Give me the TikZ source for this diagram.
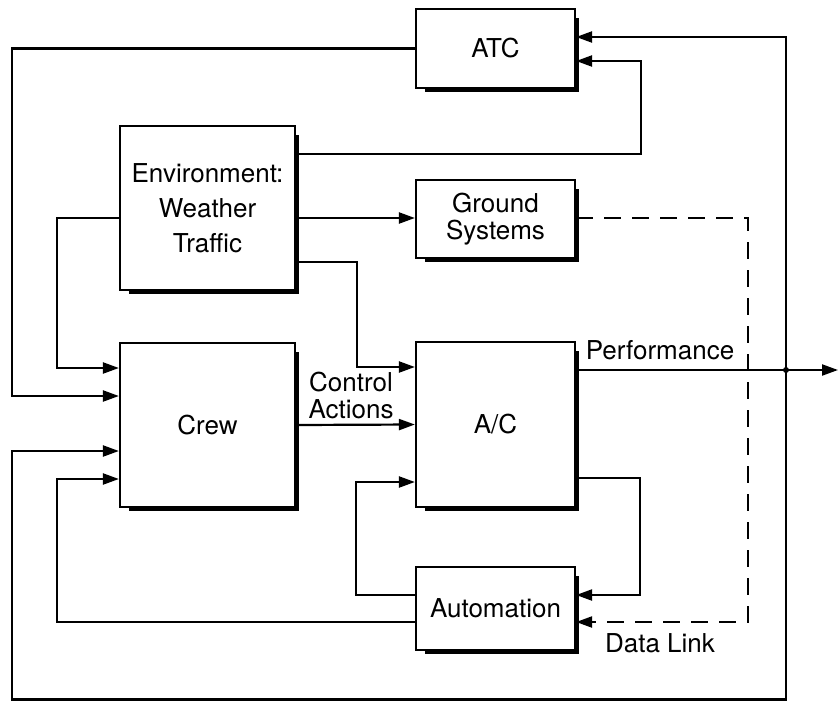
\documentclass[tikz,border=0pt]{standalone}
\usepackage{fontspec}
\setmainfont{TeX Gyre Heros}
\usetikzlibrary{arrows.meta}
\tikzset{
  blk/.style={draw, line width=2.2pt, inner sep=0pt, align=center, font=\fontsize{26}{27}\selectfont},
  conn/.style={line width=2.2pt},
  arr/.style={conn, -{Triangle[length=16pt,width=11pt]}},
  dconn/.style={arr, dash pattern=on 17pt off 11pt},
  lbl/.style={inner sep=0pt, align=center, font=\fontsize{26}{27}\selectfont},
  shadowline/.style={line width=3.5pt},
}
\newcommand{\boxshadow}[1]{%
  \draw[shadowline] ([xshift=10pt,yshift=-1.5pt]#1.south west) -- ([xshift=1.5pt,yshift=-1.5pt]#1.south east) -- ([xshift=1.5pt,yshift=-10pt]#1.north east);}
\begin{document}
\begin{tikzpicture}[x=1pt,y=-1pt]
  \fill[white] (0,0) rectangle (838,702);
  \useasboundingbox (0,0) rectangle (838,702);

  % helper heights
  \foreach \h in {37,61,154,218,262,367,368,370,396,451,478,479,482,595,622}
    \coordinate (h\h) at (0,\h);

  % blocks
  \node[blk, minimum width=159pt, minimum height=79pt] (atc) at (495.5,48.5) {ATC};
  \node[blk, minimum width=175pt, minimum height=164pt, font=\fontsize{26}{35}\selectfont] (env) at (207.5,208) {Environment:\\Weather\\Traffic};
  \node[blk, minimum width=159pt, minimum height=78pt] (gnd) at (495.5,219) {Ground\\Systems};
  \node[blk, minimum width=175pt, minimum height=164pt] (crew) at (207.5,425) {Crew};
  \node[blk, minimum width=159pt, minimum height=165pt] (ac) at (495.5,424.5) {A/C};
  \node[blk, minimum width=159pt, minimum height=83pt] (auto) at (495.5,608.5) {Automation};

  \boxshadow{atc}
  \boxshadow{env}
  \boxshadow{gnd}
  \boxshadow{crew}
  \boxshadow{ac}
  \boxshadow{auto}

  % junction and free end
  \coordinate (jn) at (786,370);
  \coordinate (out) at (838,370);

  % connectors
  \draw[arr] (atc.west) -- (12,48.5) -- (12,396) -- (crew.west |- h396);
  \draw[arr] (env.east |- h154) -- (641,154) -- (641,61) -- (atc.east |- h61);
  \draw[arr] (env.west |- h218) -- (57,218) -- (57,368) -- (crew.west |- h368);
  \draw[arr] (env.east |- h218) -- (gnd.west |- h218);
  \draw[arr] (env.east |- h262) -- (357,262) -- (357,367) -- (ac.west |- h367);
  \draw[arr] (crew.east) -- (ac.west);
  \draw[arr] (ac.east |- h370) -- (out);
  \draw[arr] (jn) -- (786,37) -- (atc.east |- h37);
  \draw[arr] (jn) -- (786,699.5) -- (12,699.5) -- (12,451) -- (crew.west |- h451);
  \draw[arr] (ac.east |- h478) -- (640,478) -- (640,595) -- (auto.east |- h595);
  \draw[arr] (auto.west |- h595) -- (356,595) -- (356,482) -- (ac.west |- h482);
  \draw[arr] (auto.west |- h622) -- (57,622) -- (57,479) -- (crew.west |- h479);
  \draw[dconn] (gnd.east |- h218) -- (748,218) -- (748,622) -- (auto.east |- h622);
  \fill (jn) circle (3pt);

  % labels
  \node[lbl] (lctl) at (351,395) {Control\\Actions};
  \node[lbl] (lperf) at (660,350) {Performance};
  \node[lbl] (ldl) at (660,643) {Data Link};
\end{tikzpicture}
\end{document}
